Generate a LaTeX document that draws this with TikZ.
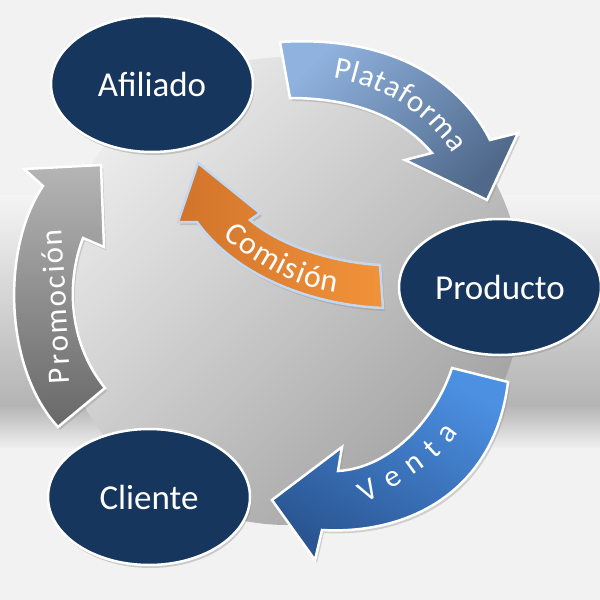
\documentclass[tikz,border=0pt]{standalone}
\usepackage{fontspec}
\setmainfont{Carlito}
\usetikzlibrary{decorations.text,shadows,shapes.geometric}
\definecolor{bg}{HTML}{F2F2F2}
\definecolor{bandtop}{HTML}{F4F4F4}
\definecolor{banddark}{HTML}{B4B4B4}
\definecolor{bandlow}{HTML}{EEEEEE}
\definecolor{circlelight}{HTML}{ECECEC}
\definecolor{circledark}{HTML}{A2A2A2}
\definecolor{navy}{HTML}{17365D}
\definecolor{platA}{HTML}{8FB2DE}
\definecolor{platB}{HTML}{50698B}
\definecolor{comA}{HTML}{D1742B}
\definecolor{comB}{HTML}{F2933A}
\definecolor{comborder}{HTML}{C3D8F0}
\definecolor{proA}{HTML}{B5B5B5}
\definecolor{proB}{HTML}{686868}
\definecolor{venA}{HTML}{4C90E2}
\definecolor{venB}{HTML}{2A5592}
\newcommand\lblfont{\fontsize{31}{34}\selectfont\color{white}}
\newcommand\comfont{\fontsize{32}{34}\selectfont\color{white}}
\begin{document}
\begin{tikzpicture}[x=1pt,y=1pt,
  bubble/.style={ellipse, fill=navy, draw=white, line width=2.5pt,
    minimum width=202pt, minimum height=136pt, inner sep=0pt,
    text=white, font=\fontsize{35}{40}\selectfont,
    drop shadow={shadow xshift=1.5pt, shadow yshift=-3pt, opacity=0.35}},
  blockarrow/.style={draw=white, line width=2.5pt, line join=miter,
    drop shadow={shadow xshift=2pt, shadow yshift=-3pt, opacity=0.3}},
  arrowtext/.style={decorate, decoration={text along path, text align={fit to path}}}]
\useasboundingbox (0,0) rectangle (600,-600);
\fill[bg] (0,0) rectangle (600,-600);
\shade[top color=bandtop, bottom color=banddark] (0,-195) rectangle (600,-405);
\shade[top color=banddark, bottom color=bandlow] (0,-405) rectangle (600,-447);
\shade[top color=circlelight, bottom color=circledark, shading angle=45] (288,-291) circle[radius=234];

% Plataforma
\path[blockarrow, top color=platA, bottom color=platB, shading angle=45]
 (280,-42) .. controls (390,-35) and (460,-80) .. (490,-140) -- (518,-133) -- (487,-200)
 -- (405,-160) -- (432,-153) .. controls (400,-115) and (350,-98) .. (290,-98) -- cycle;
% Comision
\path[blockarrow, draw=comborder, left color=comA, right color=comB]
 (198,-163) -- (260,-213) -- (250,-220) .. controls (280,-245) and (330,-262) .. (380,-265)
 -- (383,-308) .. controls (310,-305) and (235,-275) .. (197,-222) -- (178,-222) -- cycle;
% Promocion
\path[blockarrow, top color=proA, bottom color=proB]
 (101,-165) -- (104,-247) -- (83,-238) .. controls (65,-285) and (70,-345) .. (105,-388)
 -- (58,-427) .. controls (5,-370) and (0,-250) .. (43,-186) -- (24,-169) -- cycle;
% Venta
\path[blockarrow, top color=venA, bottom color=venB, shading angle=-30]
 (452,-368) -- (508,-382) .. controls (495,-490) and (410,-535) .. (322,-530) -- (315,-560)
 -- (272,-500) -- (342,-447) -- (338,-471) .. controls (390,-468) and (435,-420) .. (452,-368) -- cycle;

\path[arrowtext, decoration={text={|\lblfont|Plataforma}}]
 (333,-78) .. controls (375,-84) and (424,-108) .. (453,-154);
\path[arrowtext, decoration={text={|\comfont|Comisión}}]
 (223,-236) .. controls (250,-260) and (290,-286) .. (336,-292);
\path[arrowtext, decoration={text={|\lblfont|Promoción}}]
 (70,-383) .. controls (67,-330) and (65,-280) .. (62,-229);
\path[arrowtext, decoration={text={|\lblfont|Venta}}]
 (366,-504) .. controls (395,-487) and (437,-465) .. (458,-433);

\node[bubble] (afiliado) at (152,-84) {Afiliado};
\node[bubble] (producto) at (500,-287) {Producto};
\node[bubble] (cliente) at (149,-497) {Cliente};
\end{tikzpicture}
\end{document}
